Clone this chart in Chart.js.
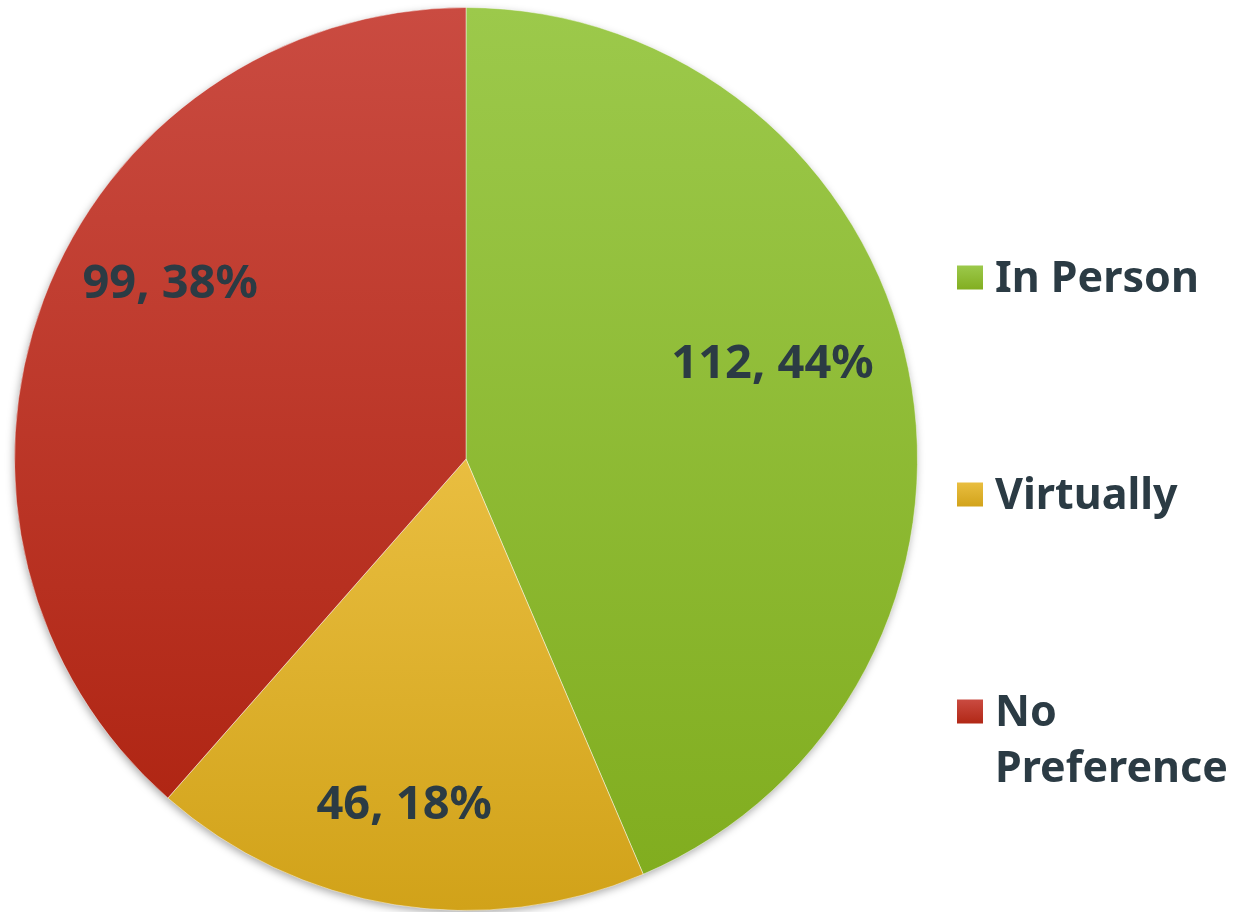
<!DOCTYPE html>
<html>
<head>
<meta charset="utf-8">
<script src="https://cdn.jsdelivr.net/npm/chart.js@4"></script>
<style>
  html, body { margin: 0; padding: 0; background: #fff; }
  canvas { display: block; }
</style>
</head>
<body>
<canvas id="prefs" width="1251" height="912"></canvas>
<script>
const categories = ['In Person', 'Virtually', 'No Preference'];
const legendLines = [['In Person'], ['Virtually'], ['No', 'Preference']];
const counts = [112, 46, 99];
const percents = [44, 18, 38];
const topColors = ['#9cc94b', '#e9be40', '#ca4b41'];
const bottomColors = ['#81ad1f', '#d1a219', '#b02614'];

const textColor = '#2b3b44';

// geometry of one slice, taken from the chart area and the data
function sliceGeom(chart, i) {
  const a = chart.chartArea;
  const cx = (a.left + a.right) / 2, cy = (a.top + a.bottom) / 2;
  const r = Math.min(a.right - a.left, a.bottom - a.top) / 2;
  const total = counts.reduce((s, v) => s + v, 0);
  let cum = 0;
  for (let k = 0; k < i; k++) cum += counts[k];
  const start = -Math.PI / 2 + 2 * Math.PI * cum / total;
  const end = start + 2 * Math.PI * counts[i] / total;
  return { cx, cy, r, start, end };
}

function sliceGradient(context) {
  const chart = context.chart;
  const i = context.dataIndex;
  if (!chart.chartArea) return bottomColors[i];
  const g = sliceGeom(chart, i);
  let yMin = g.cy, yMax = g.cy;
  for (let s = 0; s <= 120; s++) {
    const ang = g.start + (g.end - g.start) * s / 120;
    const y = g.cy + g.r * Math.sin(ang);
    yMin = Math.min(yMin, y);
    yMax = Math.max(yMax, y);
  }
  const grad = chart.ctx.createLinearGradient(0, yMin, 0, yMax);
  grad.addColorStop(0, topColors[i]);
  grad.addColorStop(1, bottomColors[i]);
  return grad;
}

const pieShadow = {
  id: 'pieShadow',
  beforeDatasetsDraw(chart) {
    const g = sliceGeom(chart, 0);
    const ctx = chart.ctx;
    ctx.save();
    ctx.shadowColor = 'rgba(0,0,0,0.35)';
    ctx.shadowBlur = 8;
    ctx.shadowOffsetX = -1;
    ctx.shadowOffsetY = 3;
    ctx.fillStyle = '#ffffff';
    ctx.beginPath();
    ctx.arc(g.cx, g.cy, g.r - 1, 0, Math.PI * 2);
    ctx.fill();
    ctx.restore();
  }
};

// "best fit" style placement: small turn (degrees) and radius share per slice
const labelTurn = [-5.5, 1, 9.8];
const labelRadius = [0.71, 0.78, 0.76];

const sliceLabels = {
  id: 'sliceLabels',
  afterDatasetsDraw(chart) {
    const ctx = chart.ctx;
    const arcs = chart.getDatasetMeta(0).data;
    ctx.save();
    ctx.font = 'bold 47px "Noto Sans", "DejaVu Sans", sans-serif';
    ctx.fillStyle = textColor;
    ctx.textAlign = 'center';
    ctx.textBaseline = 'middle';
    arcs.forEach((arc, i) => {
      const mid = (arc.startAngle + arc.endAngle) / 2 + labelTurn[i] * Math.PI / 180;
      const rr = arc.outerRadius * labelRadius[i];
      const x = arc.x + rr * Math.cos(mid);
      const y = arc.y + rr * Math.sin(mid);
      ctx.fillText(counts[i] + ', ' + percents[i] + '%', x, y);
    });
    ctx.restore();
  }
};

const sideLegend = {
  id: 'sideLegend',
  afterDraw(chart) {
    const ctx = chart.ctx;
    const boxX = 957, textX = 995, box = 25;
    const rowY = [278, 495, 712];
    const lineGap = 56;
    ctx.save();
    ctx.font = 'bold 43px "Noto Sans", "DejaVu Sans", sans-serif';
    ctx.textBaseline = 'middle';
    ctx.textAlign = 'left';
    categories.forEach((c, i) => {
      const y = rowY[i];
      const grad = ctx.createLinearGradient(0, y - box / 2, 0, y + box / 2);
      grad.addColorStop(0, topColors[i]);
      grad.addColorStop(1, bottomColors[i]);
      ctx.fillStyle = grad;
      ctx.fillRect(boxX, y - box / 2, box + 1, box - 1);
      ctx.fillStyle = textColor;
      legendLines[i].forEach((line, k) => {
        ctx.fillText(line, textX, y + 2 + k * lineGap);
      });
    });
    ctx.restore();
  }
};

new Chart(
  document.getElementById('prefs'),
  {
    type: 'pie',
    data: {
      labels: categories,
      datasets: [
        {
          data: counts,
          backgroundColor: sliceGradient,
          borderColor: 'rgba(255,255,255,0.45)',
          borderWidth: 1,
        }
      ]
    },
    options: {
      responsive: false,
      animation: false,
      layout: {
        padding: { left: 14, right: 333, top: 7, bottom: 1 }
      },
      plugins: {
        legend: { display: false },
        tooltip: { enabled: false }
      }
    },
    plugins: [pieShadow, sliceLabels, sideLegend]
  }
);
</script>
</body>
</html>
